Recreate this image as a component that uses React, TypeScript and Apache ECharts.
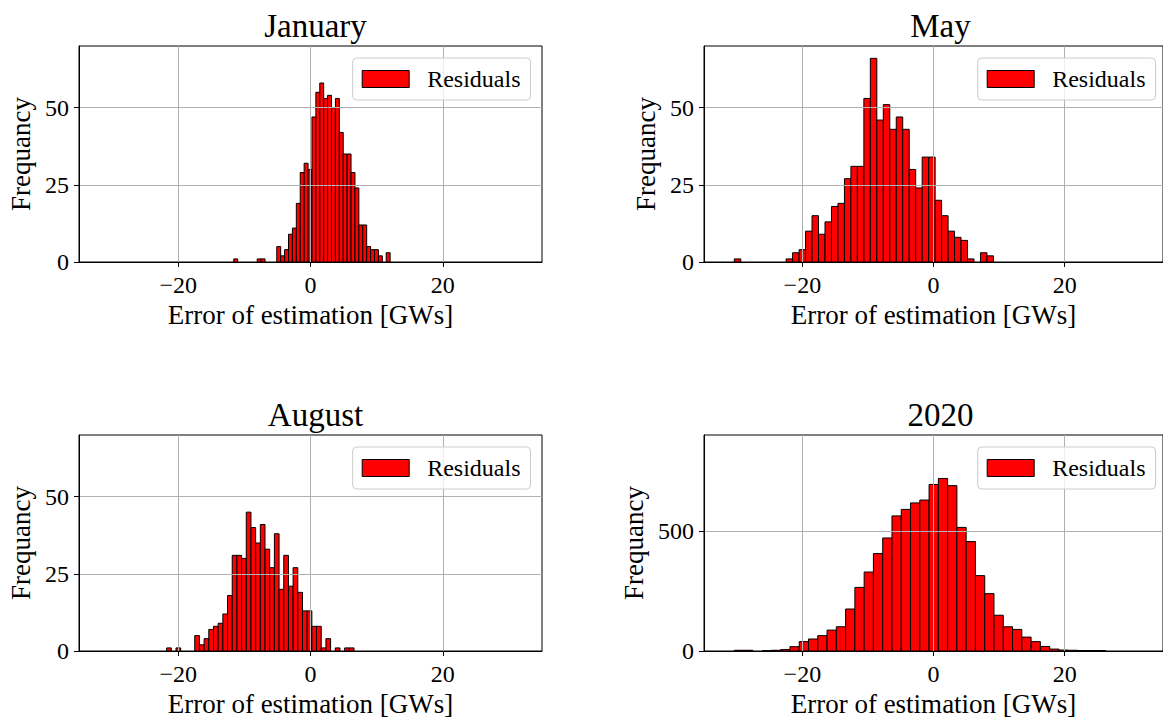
import React, { useEffect, useRef } from "react";
import * as echarts from "echarts";

// Histogram bins: each panel is [min, max] of the residuals split into equal-width bins
const binCount = 40;

const januaryRange = [-11.6, 12.04];
const januaryCounts = [
  1, 0, 0, 0, 0, 0, 1, 1, 0, 0, 0, 5, 2, 4, 9, 11, 19, 29, 32, 30,
  47, 55, 58, 53, 54, 50, 53, 42, 35, 35, 29, 24, 12, 12, 5, 4, 4, 2, 0, 3,
];

const mayRange = [-30.38, 9.14];
const mayCounts = [
  1, 0, 0, 0, 0, 0, 0, 0, 1, 3, 4, 10, 15, 9, 13, 18, 19, 27, 31, 31,
  53, 66, 46, 51, 43, 47, 43, 30, 24, 34, 34, 20, 15, 10, 8, 7, 1, 0, 3, 2,
];

const augustRange = [-21.75, 6.58];
const augustCounts = [
  1, 0, 1, 0, 0, 0, 5, 2, 4, 7, 8, 9, 12, 18, 31, 31, 30, 45, 40, 35,
  41, 33, 27, 38, 20, 31, 21, 27, 19, 13, 13, 8, 8, 1, 4, 0, 1, 0, 1, 1,
];

const yearRange = [-30.38, 26.2];
const yearCounts = [
  3, 3, 0, 1, 3, 6, 18, 39, 50, 64, 87, 101, 175, 265, 329, 406, 471, 563, 590, 617,
  629, 694, 719, 689, 515, 456, 314, 239, 149, 101, 90, 58, 39, 19, 8, 4, 3, 2, 2, 2,
];

const panelTitles = ["January", "May", "August", "2020"];
const panelRanges = [januaryRange, mayRange, augustRange, yearRange];
const panelCounts = [januaryCounts, mayCounts, augustCounts, yearCounts];

const xLimits = [-35, 35];
const xTickValues = [-20, 0, 20];
const monthYMax = 70;
const monthYTicks = [0, 25, 50];
const yearYMax = 900;
const yearYTicks = [0, 500];

const seriesName = "Residuals";
const xAxisName = "Error of estimation [GWs]";
const yAxisName = "Frequancy";

const FONT = "Liberation Serif";
const BAR_RED = "#ff0000";

// Panel layout (pixels): two columns, two rows
const colLeft = [79, 704];
const rowTop = [46, 435];
const plotW = 463;
const plotH = 216;

function binsToData(range: number[], counts: number[]) {
  const w = (range[1] - range[0]) / binCount;
  return counts.map((c, i) => [range[0] + i * w, range[0] + (i + 1) * w, c]);
}

const minus = (v: number) => String(v).replace("-", "\u2212");

function buildOption() {
  const grid: any[] = [];
  const xAxis: any[] = [];
  const yAxis: any[] = [];
  const series: any[] = [];
  const title: any[] = [];
  const legend: any[] = [];

  panelTitles.forEach((name, i) => {
    const col = i % 2;
    const row = Math.floor(i / 2);
    const left = colLeft[col];
    const top = rowTop[row];
    const isYear = i === 3;
    const yTicks = isYear ? yearYTicks : monthYTicks;

    grid.push({
      left,
      top,
      width: plotW,
      height: plotH,
      show: true,
      borderColor: "#000",
      borderWidth: 1,
      backgroundColor: "#fff",
      containLabel: false,
    });

    title.push({
      text: name,
      left: left + plotW / 2,
      top: top - 42,
      textAlign: "center",
      textStyle: {
        fontFamily: FONT,
        fontSize: 33,
        fontWeight: "normal",
        color: "#000",
      },
    });

    xAxis.push({
      type: "value",
      gridIndex: i,
      min: xLimits[0],
      max: xLimits[1],
      z: 3,
      name: xAxisName,
      nameLocation: "middle",
      nameGap: 39,
      nameTextStyle: { fontFamily: FONT, fontSize: 27, color: "#000" },
      axisLine: { show: true, onZero: false, lineStyle: { color: "#000", width: 1 } },
      axisTick: {
        show: true,
        inside: false,
        length: 5,
        customValues: xTickValues,
        lineStyle: { color: "#000", width: 1 },
      },
      axisLabel: {
        show: true,
        margin: 11,
        customValues: xTickValues,
        formatter: (v: number) => minus(v),
        fontFamily: FONT,
        fontSize: 24,
        color: "#000",
      },
      splitLine: { show: true, lineStyle: { color: "#b0b0b0", width: 1 } },
    });

    yAxis.push({
      type: "value",
      gridIndex: i,
      min: 0,
      max: isYear ? yearYMax : monthYMax,
      z: 3,
      name: yAxisName,
      nameLocation: "middle",
      nameGap: isYear ? 57 : 45,
      nameRotate: 90,
      nameTextStyle: { fontFamily: FONT, fontSize: 27, color: "#000" },
      axisLine: { show: true, onZero: false, lineStyle: { color: "#000", width: 1 } },
      axisTick: {
        show: true,
        inside: false,
        length: 5,
        customValues: yTicks,
        lineStyle: { color: "#000", width: 1 },
      },
      axisLabel: {
        show: true,
        margin: 10,
        customValues: yTicks,
        fontFamily: FONT,
        fontSize: 24,
        color: "#000",
      },
      splitLine: { show: true, lineStyle: { color: "#b0b0b0", width: 1 } },
    });

    series.push({
      type: "custom",
      name: seriesName,
      xAxisIndex: i,
      yAxisIndex: i,
      z: 1,
      clip: true,
      itemStyle: { color: BAR_RED, borderColor: "#000", borderWidth: 1 },
      encode: { x: [0, 1], y: 2 },
      data: binsToData(panelRanges[i], panelCounts[i]),
      renderItem: (params: any, api: any) => {
        const x0 = api.value(0);
        const x1 = api.value(1);
        const c = api.value(2);
        if (!c) return null;
        const p0 = api.coord([x0, 0]);
        const p1 = api.coord([x1, c]);
        return {
          type: "rect",
          shape: {
            x: p0[0],
            y: p1[1],
            width: p1[0] - p0[0],
            height: p0[1] - p1[1],
          },
          style: { fill: BAR_RED, stroke: "#000", lineWidth: 1 },
        };
      },
    });

    legend.push({
      left: left + plotW - 189.3,
      top: top + 12,
      orient: "vertical",
      padding: [9, 10, 9, 9],
      itemWidth: 47,
      itemHeight: 17,
      backgroundColor: "rgba(255,255,255,0.8)",
      borderColor: "#cccccc",
      borderWidth: 1,
      borderRadius: 4,
      selectedMode: false,
      textStyle: {
        fontFamily: FONT,
        fontSize: 24,
        color: "#000",
        lineHeight: 20,
        padding: [0, 0, 0, 13],
      },
      data: [
        {
          name: seriesName,
          icon: "rect",
          itemStyle: { color: BAR_RED, borderColor: "#000", borderWidth: 1 },
        },
      ],
    });
  });

  return {
    animation: false,
    backgroundColor: "#fff",
    title,
    legend,
    grid,
    xAxis,
    yAxis,
    series,
  };
}

export default function App() {
  const ref = useRef<HTMLDivElement>(null);

  useEffect(() => {
    if (!ref.current) return;
    const chart = echarts.init(ref.current, undefined, { renderer: "svg" });
    chart.setOption(buildOption());
    return () => chart.dispose();
  }, []);

  return (
    <div
      ref={ref}
      style={{
        position: "fixed",
        left: 0,
        top: 0,
        width: 1163,
        height: 720,
        background: "#fff",
      }}
    />
  );
}
